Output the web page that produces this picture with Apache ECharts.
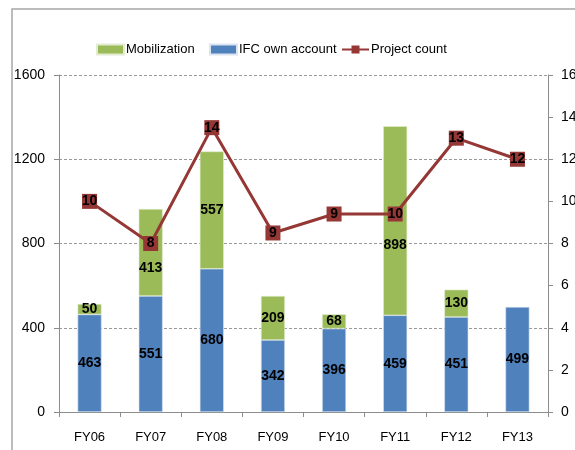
<!DOCTYPE html>
<html>
<head>
<meta charset="utf-8">
<script src="https://cdn.jsdelivr.net/npm/echarts@6/dist/echarts.min.js"></script>
<style>
  html, body { margin: 0; padding: 0; background: #fff; }
  #chart { width: 575px; height: 450px; }
</style>
</head>
<body>
<div id="chart"></div>
<script>
// years
const categories = ['FY06', 'FY07', 'FY08', 'FY09', 'FY10', 'FY11', 'FY12', 'FY13'];
// bar stacks
const ifcOwnAccount = [463, 551, 680, 342, 396, 459, 451, 499];
const mobilization = [50, 413, 557, 209, 68, 898, 130, null];
// line: plotted positions and the labels printed on the markers
const projectCount = [10, 8, 13.5, 8.5, 9.4, 9.4, 13, 12];
const projectLabels = ['10', '8', '14', '9', '9', '10', '13', '12'];
const leftTicks = [0, 1600, 400];
const rightTicks = [0, 16, 2];

const FONT = '"Liberation Sans", Arial, sans-serif';
const GREY = '#8c8c8c';

const chart = echarts.init(document.getElementById('chart'));

const barLabel = {
    show: true,
    position: 'inside',
    color: '#000',
    fontWeight: 'bold',
    fontSize: 14,
    fontFamily: FONT
};

// the chart moves a couple of labels down off the markers
const mobLabelShift = { 1: 16, 5: 24 };

function legendAt(name, left, icon) {
    return {
        data: [icon ? { name: name, icon: icon } : name],
        left: left,
        top: 38,
        itemWidth: 27,
        itemHeight: 10,
        itemGap: 0,
        textStyle: { fontSize: 13, color: '#000', fontFamily: FONT, padding: [0, 0, 0, -3] }
    };
}

chart.setOption({
    animation: false,
    textStyle: { fontFamily: FONT },
    graphic: [{
        type: 'rect',
        shape: { x: 12, y: 9, width: 800, height: 600 },
        style: { fill: 'none', stroke: '#a6a6a6', lineWidth: 1.5 },
        silent: true
    }],
    legend: [
        legendAt('Mobilization', 91, 'rect'),
        legendAt('IFC own account', 204, 'rect'),
        legendAt('Project count', 336)
    ],
    grid: { left: 59, right: 27, top: 75, bottom: 38, outerBoundsMode: 'none' },
    xAxis: {
        type: 'category',
        data: categories,
        axisLine: { lineStyle: { color: GREY, width: 1 } },
        axisTick: { show: true, length: 5, lineStyle: { color: GREY } },
        axisLabel: { color: '#000', fontSize: 13, margin: 19, fontFamily: FONT }
    },
    yAxis: [{
        type: 'value',
        min: leftTicks[0],
        max: leftTicks[1],
        interval: leftTicks[2],
        axisLine: { show: true, lineStyle: { color: GREY } },
        axisTick: { show: true, length: 5, lineStyle: { color: GREY } },
        axisLabel: { color: '#000', fontSize: 14, margin: 14, fontFamily: FONT, formatter: v => String(v) },
        splitLine: { show: true, lineStyle: { color: '#999', type: [3, 2] } }
    }, {
        type: 'value',
        min: rightTicks[0],
        max: rightTicks[1],
        interval: rightTicks[2],
        position: 'right',
        axisLine: { show: true, lineStyle: { color: GREY } },
        axisTick: { show: true, length: 5, lineStyle: { color: GREY } },
        axisLabel: { color: '#000', fontSize: 14, margin: 13, fontFamily: FONT },
        splitLine: { show: false }
    }],
    series: [{
        name: 'IFC own account',
        type: 'bar',
        stack: 'total',
        barWidth: 24,
        data: ifcOwnAccount,
        itemStyle: { color: '#4f81bd', borderColor: '#dbe4f0', borderWidth: 0.6 },
        label: barLabel
    }, {
        name: 'Mobilization',
        type: 'bar',
        stack: 'total',
        barWidth: 24,
        data: mobilization.map((v, i) => mobLabelShift[i]
            ? { value: v, label: { offset: [0, mobLabelShift[i]] } }
            : v),
        itemStyle: { color: '#9bbb59', borderColor: '#e3ecd2', borderWidth: 0.6 },
        label: barLabel
    }, {
        name: 'Project count',
        type: 'line',
        yAxisIndex: 1,
        z: 5,
        data: projectCount,
        symbol: 'rect',
        symbolSize: 15,
        lineStyle: { color: '#953735', width: 3 },
        itemStyle: { color: '#953735' },
        label: {
            show: true,
            position: 'inside',
            color: '#000',
            fontWeight: 'bold',
            fontSize: 14,
            fontFamily: FONT,
            formatter: p => projectLabels[p.dataIndex]
        }
    }]
});
</script>
</body>
</html>
